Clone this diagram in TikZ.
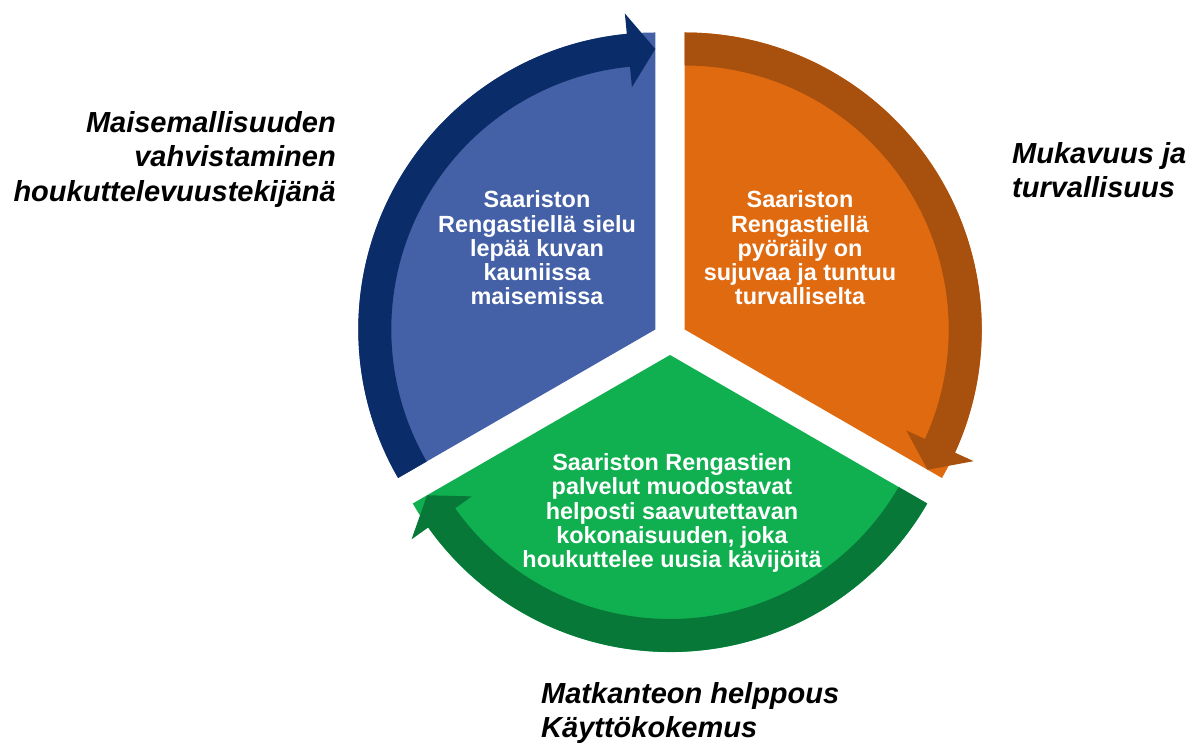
\documentclass[tikz,border=0pt]{standalone}
\usepackage{fontspec}
\setmainfont{Liberation Sans}
\definecolor{bluelight}{RGB}{68,96,166}
\definecolor{bluedark}{RGB}{10,44,104}
\definecolor{orangelight}{RGB}{224,106,16}
\definecolor{orangedark}{RGB}{168,80,14}
\definecolor{greenlight}{RGB}{16,176,80}
\definecolor{greendark}{RGB}{8,120,56}
\tikzset{
  intext/.style={text=white, font=\bfseries\fontsize{23.4}{24.2}\selectfont, align=center, inner sep=0pt},
  outlabel/.style={text=black, font=\bfseries\itshape\fontsize{29}{34.5}\selectfont, inner sep=0pt}
}
\begin{document}
\begin{tikzpicture}[x=1pt,y=1pt]
\useasboundingbox (0,0) rectangle (1194,744);
% blue sector (upper left)
\begin{scope}[shift={(655.28,414.5)}]
  \fill[bluelight] (0,0) -- (90:297pt) arc[start angle=90,end angle=210,radius=297pt] -- cycle;
  \fill[bluedark] (210:264pt) arc[start angle=210,end angle=95.5,radius=264pt]
    -- (95.5:243.5pt) -- (90:280.5pt) -- (95.5:317.5pt) -- (95.5:297pt)
    arc[start angle=95.5,end angle=210,radius=297pt] -- cycle;
\end{scope}
% orange sector (upper right)
\begin{scope}[shift={(684.72,414.5)}]
  \fill[orangelight] (0,0) -- (-30:297pt) arc[start angle=-30,end angle=90,radius=297pt] -- cycle;
  \fill[orangedark] (90:264pt) arc[start angle=90,end angle=-24.5,radius=264pt]
    -- (-24.5:243.5pt) -- (-30:280.5pt) -- (-24.5:317.5pt) -- (-24.5:297pt)
    arc[start angle=-24.5,end angle=90,radius=297pt] -- cycle;
\end{scope}
% green sector (bottom)
\begin{scope}[shift={(670,389)}]
  \fill[greenlight] (0,0) -- (210:297pt) arc[start angle=210,end angle=330,radius=297pt] -- cycle;
  \fill[greendark] (330:264pt) arc[start angle=330,end angle=215.5,radius=264pt]
    -- (215.5:243.5pt) -- (210:280.5pt) -- (215.5:317.5pt) -- (215.5:297pt)
    arc[start angle=215.5,end angle=330,radius=297pt] -- cycle;
\end{scope}
% texts inside
\node[intext] (tblue) at (537,496) {Saariston\\Rengastiellä sielu\\lepää kuvan\\kauniissa\\maisemissa};
\node[intext] (torange) at (800,496) {Saariston\\Rengastiellä\\pyöräily on\\sujuvaa ja tuntuu\\turvalliselta};
\node[intext] (tgreen) at (672,231) {Saariston Rengastien\\palvelut muodostavat\\helposti saavutettavan\\kokonaisuuden, joka\\houkuttelee uusia kävijöitä};
% outer labels
\node[outlabel, align=right, anchor=north east] (lblue) at (336,633) {Maisemallisuuden\\vahvistaminen\\houkuttelevuustekijänä};
\node[outlabel, align=left, anchor=north west] (lorange) at (1012,602) {Mukavuus ja\\turvallisuus};
\node[outlabel, align=left, anchor=north west] (lgreen) at (541,62) {Matkanteon helppous\\Käyttökokemus};
\end{tikzpicture}
\end{document}
